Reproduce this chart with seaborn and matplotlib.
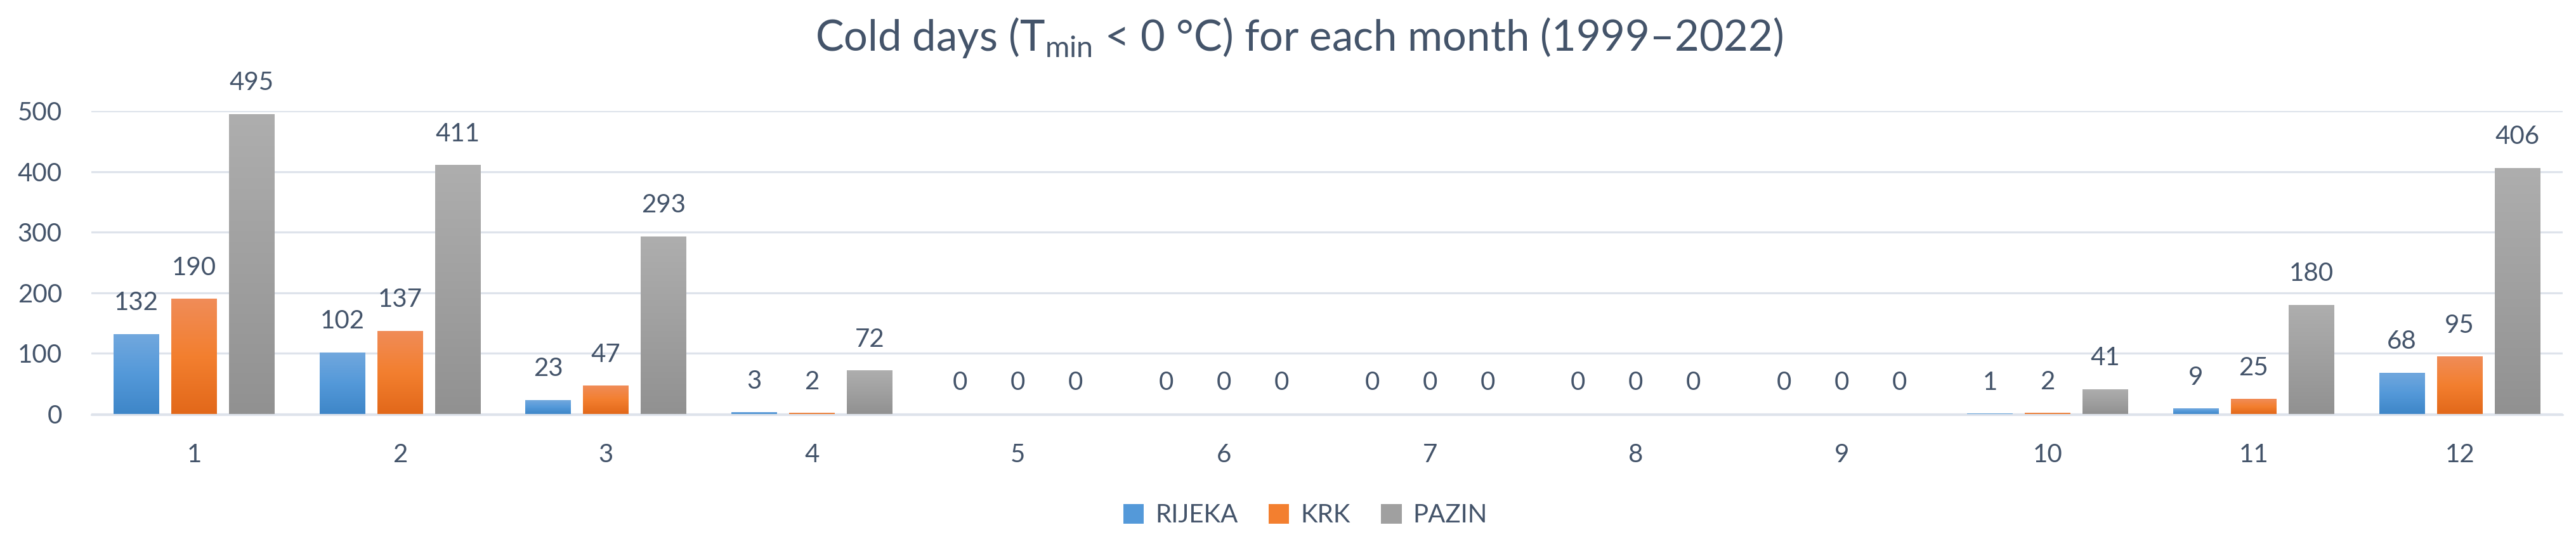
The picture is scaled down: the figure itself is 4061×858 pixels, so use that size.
import numpy as np
import pandas as pd
import seaborn as sns
import matplotlib.pyplot as plt
from matplotlib.colors import LinearSegmentedColormap
from matplotlib.patches import Patch

# Cold days (Tmin < 0 °C) per month, 1999-2022
months = [str(m) for m in range(1, 13)]
rijeka = [132, 102, 23, 3, 0, 0, 0, 0, 0, 1, 9, 68]
krk = [190, 137, 47, 2, 0, 0, 0, 0, 0, 2, 25, 95]
pazin = [495, 411, 293, 72, 0, 0, 0, 0, 0, 41, 180, 406]
stations = ["RIJEKA", "KRK", "PAZIN"]

data = pd.DataFrame({
    "month": months * 3,
    "days": rijeka + krk + pazin,
    "station": np.repeat(stations, len(months)),
})

# gradient stops: bottom, middle, top (Excel-like gradient fill)
grad = {
    "RIJEKA": ["#3E86C8", "#5499D9", "#72A8DE"],
    "KRK": ["#E2681A", "#F37F2F", "#F08C58"],
    "PAZIN": ["#919191", "#A0A0A0", "#AEAEAE"],
}
palette = {k: v[1] for k, v in grad.items()}
txt = "#44546A"

sns.set_style("white")
plt.rcParams["font.family"] = ["Lato", "DejaVu Sans"]
plt.rcParams["mathtext.fontset"] = "custom"
plt.rcParams["mathtext.rm"] = "Lato"
plt.rcParams["mathtext.it"] = "Lato:italic"
plt.rcParams["mathtext.bf"] = "Lato:bold"

fig = plt.figure(figsize=(40.61, 8.58), dpi=100)
ax = fig.add_axes([0.03536, 0.2389, 0.99483 - 0.03536, 0.796 - 0.2389])

sns.barplot(data=data, x="month", y="days", hue="station", order=months,
            hue_order=stations, palette=palette, width=0.841, gap=0.21,
            edgecolor="none", legend=False, ax=ax)

ax.set_yticks([0, 100, 200, 300, 400, 500])
ax.yaxis.grid(True, color="#DEE3EB", linewidth=2.3)
ax.set_axisbelow(True)
for s in ax.spines.values():
    s.set_visible(False)
ax.tick_params(axis="both", length=0, labelsize=29, labelcolor=txt)
ax.tick_params(axis="x", pad=33)
ax.tick_params(axis="y", pad=33)
ax.set_xlabel("")
ax.set_ylabel("")

# gradient fill clipped to each bar
ramp = np.linspace(0, 1, 256).reshape(-1, 1)
for cont, st in zip(ax.containers, stations):
    cmap = LinearSegmentedColormap.from_list(st, grad[st])
    for p in cont:
        h = p.get_height()
        if h <= 0:
            continue
        x0 = p.get_x()
        im = ax.imshow(ramp, extent=[x0, x0 + p.get_width(), 0, h], origin="lower",
                       aspect="auto", cmap=cmap, zorder=p.get_zorder() + 0.1,
                       interpolation="bilinear")
        im.set_clip_path(p)
    ax.bar_label(cont, padding=22, fontsize=29, color=txt)

# category axis line drawn over the bar bottoms
ax.axhline(-1.2, color="#DEE3EB", linewidth=2.3, zorder=5, clip_on=False)

ax.set_ylim(0, 500)
ax.set_xlim(-0.5, 11.5)

title = fig.text(2048 / 4061, 1 - 80 / 858,
                 r"Cold days (T$_{\mathrm{min}}$ < 0 °C) for each month (1999–2022)",
                 ha="center", va="baseline", fontsize=43, color=txt)
# fit title to the reference width (~1526 px)
bb = title.get_window_extent(fig.canvas.get_renderer())
title.set_fontsize(43 * 1526 / bb.width)

handles = [Patch(facecolor=palette[s], edgecolor="none", label=s) for s in stations]
fig.legend(handles=handles, loc="center", bbox_to_anchor=(0.5068, 1 - 813 / 858),
           ncol=3, frameon=False, fontsize=29, labelcolor=txt,
           handlelength=0.8, handleheight=0.8, handletextpad=0.45, columnspacing=1.2)

fig.savefig("out.png", dpi=100)
